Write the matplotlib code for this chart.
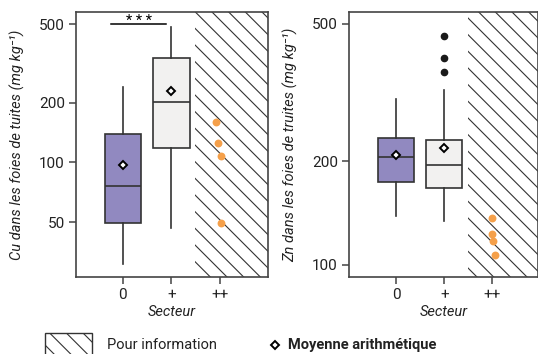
import matplotlib
matplotlib.use("Agg")
import matplotlib.pyplot as plt
from matplotlib.patches import Rectangle
from matplotlib.lines import Line2D

plt.rcParams['font.family'] = ['Roboto', 'DejaVu Sans']
plt.rcParams['hatch.linewidth'] = 0.8

secteurs = ['0', '+', '++']

# Cu (mg/kg) : boites pour 0 et +
cu_q1     = [49.5, 119]
cu_med    = [76.5, 202]
cu_q3     = [140, 336]
cu_wlo    = [30.7, 46.6]
cu_whi    = [241, 481]
cu_mean   = [96.6, 229]
cu_fliers = [[], []]
cu_pp     = [160, 125, 108, 49.4]          # points "++"
cu_pp_x   = [1.93, 1.96, 2.03, 2.03]

# Zn (mg/kg)
zn_q1     = [174, 167]
zn_med    = [205.8, 195]
zn_q3     = [233, 230]
zn_wlo    = [139, 134]
zn_whi    = [302, 322]
zn_mean   = [208, 219]
zn_fliers = [[], [462, 399, 363]]
zn_pp     = [137, 123, 117, 106.9]
zn_pp_x   = [2.0, 2.0, 2.02, 2.06]

box_cols = ['#9189c0', '#f2f1f0']
dark = '#333333'
orange = '#f5a04a'


def panel(ax, q1, med, q3, wlo, whi, mean, fliers, pp, ppx, ylim, yticks, ylabel):
    stats = []
    for i in range(2):
        stats.append(dict(q1=q1[i], med=med[i], q3=q3[i], whislo=wlo[i],
                          whishi=whi[i], mean=mean[i], fliers=fliers[i]))
    b = ax.bxp(stats, positions=[0, 1], widths=0.76, patch_artist=True,
               showmeans=True, showcaps=False,
               boxprops=dict(edgecolor=dark, linewidth=1.2),
               whiskerprops=dict(color=dark, linewidth=1.2),
               medianprops=dict(color=dark, linewidth=1.2),
               meanprops=dict(marker='D', markerfacecolor='white',
                              markeredgecolor='black', markersize=4.5,
                              markeredgewidth=1.4),
               flierprops=dict(marker='o', markerfacecolor='#1a1a1a',
                               markeredgecolor='#1a1a1a', markersize=4.5))
    for p, c in zip(b['boxes'], box_cols):
        p.set_facecolor(c)
    ax.scatter(ppx, pp, s=32, color=orange, zorder=3, linewidths=0)
    ax.set_yscale('log')
    ax.set_ylim(*ylim)
    ax.set_yticks(yticks)
    ax.set_yticklabels([str(t) for t in yticks])
    ax.minorticks_off()
    ax.set_xticks([0, 1, 2])
    ax.set_xticklabels(secteurs)
    ax.tick_params(labelsize=11, length=5, width=1.1, color='#444444',
                   direction='out', pad=3, labelcolor='#222222')
    for s in ax.spines.values():
        s.set_color('#444444')
        s.set_linewidth(1.2)
    ax.set_xlabel('Secteur', style='italic', fontsize=10.5, labelpad=2,
                  color='#222222')
    ax.set_ylabel(ylabel, style='italic', fontsize=10.5, labelpad=10,
                  color='#222222')


fig = plt.figure(figsize=(5.38, 3.54), dpi=100)
ax1 = fig.add_axes([0.1413, 0.2175, 0.3567, 0.7485])
ax2 = fig.add_axes([0.6487, 0.2175, 0.3513, 0.7485])

panel(ax1, cu_q1, cu_med, cu_q3, cu_wlo, cu_whi, cu_mean, cu_fliers,
      cu_pp, cu_pp_x, (26.4, 575), [50, 100, 200, 500],
      'Cu dans les foies de tuites (mg kg⁻¹)')
ax1.set_xlim(-0.97, 3.0)
ax1.axvspan(1.5, 3.0, facecolor='none', edgecolor=dark, hatch='\\\\',
            linewidth=0, zorder=0)
ax1.plot([-0.25, 0.9], [500, 500], color='black', linewidth=1.1)
ax1.text(0.34, 494, '* * *', ha='center', va='baseline', fontsize=10.5)

panel(ax2, zn_q1, zn_med, zn_q3, zn_wlo, zn_whi, zn_mean, zn_fliers,
      zn_pp, zn_pp_x, (92.3, 541), [100, 200, 500],
      'Zn dans les foies de truites (mg kg⁻¹)')
ax2.set_xlim(-0.98, 2.95)
ax2.axvspan(1.5, 2.95, facecolor='none', edgecolor=dark, hatch='\\\\',
            linewidth=0, zorder=0)

# legende
fig.add_artist(Rectangle((0.0836, -0.03), 0.0874, 0.089, transform=fig.transFigure,
                         facecolor='none', edgecolor=dark, hatch='\\\\',
                         linewidth=1.0))
fig.text(0.199, 0.026, 'Pour information', fontsize=10.5, va='center',
         color='#222222')
fig.add_artist(Line2D([0.511], [0.026], transform=fig.transFigure, marker='D',
                      markerfacecolor='white', markeredgecolor='black',
                      markersize=4, markeredgewidth=1.4))
fig.text(0.535, 0.026, 'Moyenne arithmétique', fontsize=10.5, va='center',
         fontweight='bold', color='#222222')

fig.savefig('out.png', dpi=100)
